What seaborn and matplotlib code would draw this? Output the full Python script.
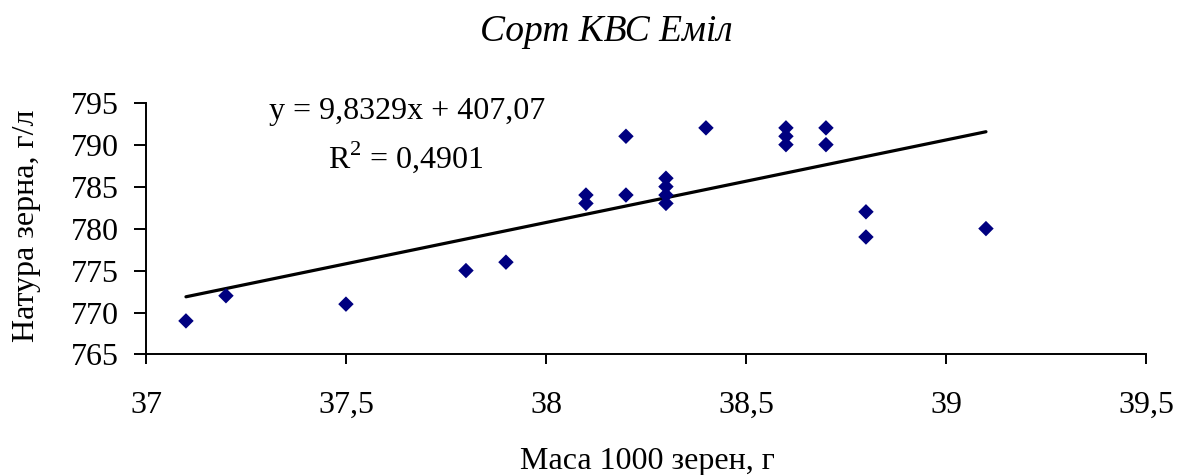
import numpy as np
import pandas as pd
import matplotlib
matplotlib.use("Agg")
import matplotlib.pyplot as plt
import seaborn as sns

# Data
mass_1000 = [37.1, 37.2, 37.5, 37.8, 37.9, 38.1, 38.1, 38.2, 38.2,
             38.3, 38.3, 38.3, 38.3, 38.4, 38.6, 38.6, 38.6, 38.7, 38.7,
             38.8, 38.8, 39.1]
natura = [769, 772, 771, 775, 776, 784, 783, 791, 784,
          786, 785, 784, 783, 792, 792, 791, 790, 792, 790,
          782, 779, 780]

x_ticks = [37, 37.5, 38, 38.5, 39, 39.5]
x_tick_labels = ["37", "37,5", "38", "38,5", "39", "39,5"]
y_ticks = [765, 770, 775, 780, 785, 790, 795]
y_tick_labels = ["765", "770", "775", "780", "785", "790", "795"]

title = "Сорт КВС Еміл"
x_label = "Маса 1000 зерен, г"
y_label = "Натура зерна, г/л"
eq_text = "y = 9,8329x + 407,07"
r2_text = "R$^2$ = 0,4901"

df = pd.DataFrame({"x": mass_1000, "y": natura})

sns.set_theme(style="white")
plt.rcParams["font.family"] = ["Liberation Serif", "DejaVu Serif"]
plt.rcParams["mathtext.fontset"] = "custom"
plt.rcParams["mathtext.rm"] = "Liberation Serif"
plt.rcParams["text.color"] = "black"
plt.rcParams["axes.labelcolor"] = "black"
plt.rcParams["xtick.color"] = "black"
plt.rcParams["ytick.color"] = "black"

fig = plt.figure(figsize=(11.78, 4.75), dpi=100)
ax = fig.add_axes([0.1239, 0.2537, 0.8489, 0.5301])

sns.regplot(data=df, x="x", y="y", ax=ax, ci=None, marker="D",
            scatter_kws=dict(color="#000080", s=62, alpha=1,
                             edgecolors="none", zorder=3),
            line_kws=dict(color="black", lw=2.3, zorder=2))

ax.set_xlim(37, 39.5)
ax.set_ylim(765, 795)
ax.set_xticks(x_ticks)
ax.set_xticklabels(x_tick_labels)
ax.set_yticks(y_ticks)
ax.set_yticklabels(y_tick_labels)

for s in ["top", "right"]:
    ax.spines[s].set_visible(False)
for s in ["left", "bottom"]:
    ax.spines[s].set_color("black")
    ax.spines[s].set_linewidth(1.4)

ax.tick_params(axis="y", direction="out", length=8.5, width=1.4, pad=11,
               labelsize=23, color="black", labelcolor="black", left=True)
ax.tick_params(axis="x", direction="out", length=7, width=1.4, pad=19,
               labelsize=23, color="black", labelcolor="black", bottom=True)

ax.set_xlabel(x_label, fontsize=23, color="black")
ax.xaxis.set_label_coords(0.5015, -0.423)
ax.xaxis.label.set_va("center")
ax.set_ylabel(y_label, fontsize=23, color="black")
ax.yaxis.set_label_coords(-0.119, 0.51)
ax.yaxis.label.set_va("center")

ax.text(0.261, 0.966, eq_text, transform=ax.transAxes, fontsize=23,
        ha="center", va="center", color="black")
ax.text(0.26, 0.784, r2_text, transform=ax.transAxes, fontsize=23,
        ha="center", va="center", color="black")

fig.text(0.515, 0.933, title, fontsize=27, fontstyle="italic",
         ha="center", va="center", color="black")

fig.savefig("out.png", dpi=100, facecolor="white")
